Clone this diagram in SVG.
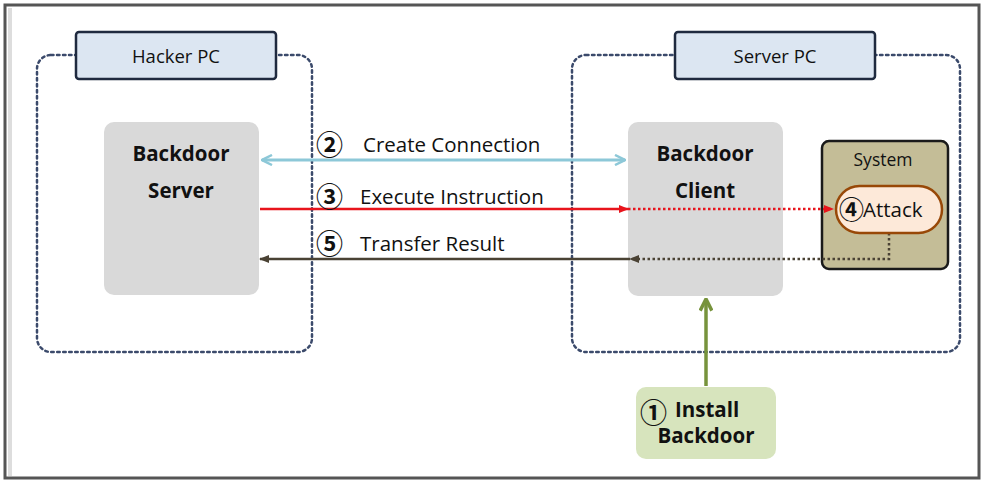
<svg xmlns="http://www.w3.org/2000/svg" width="984" height="482" viewBox="0 0 984 482">
<defs>
<style>
text{font-family:"Open Sans","Noto Sans","Noto Sans CJK KR",sans-serif;fill:#111}
.lbl{font-size:20.5px}
.ttl{font-size:18.5px}
.bold{font-size:20.5px;font-weight:bold}
.num{font-family:"Noto Sans CJK KR","Noto Sans CJK SC",sans-serif;font-size:27px;font-weight:bold}
.group{fill:none;stroke:#3b4a6b;stroke-width:2.5;stroke-dasharray:2.5 3.5;stroke-linecap:round}
.title{fill:#dce6f2;stroke:#1f2a3f;stroke-width:2.5}
.gray{fill:#d9d9d9}
</style>
<marker id="aCyan" viewBox="0 0 12 12" refX="11" refY="6" markerWidth="12" markerHeight="12" markerUnits="userSpaceOnUse" orient="auto-start-reverse"><path d="M1,1 L11,6 L1,11" fill="none" stroke="#8dc8d8" stroke-width="2.5"/></marker>
<marker id="aRed" viewBox="0 0 10 10" refX="9" refY="5" markerWidth="10" markerHeight="10" markerUnits="userSpaceOnUse" orient="auto"><path d="M0,1 L10,5 L0,9 Z" fill="#e8141c"/></marker>
<marker id="aBrown" viewBox="0 0 10 10" refX="9" refY="5" markerWidth="10" markerHeight="10" markerUnits="userSpaceOnUse" orient="auto"><path d="M0,1 L10,5 L0,9 Z" fill="#4a4234"/></marker>
<marker id="aGreen" viewBox="0 0 12 12" refX="11" refY="6" markerWidth="14" markerHeight="14" markerUnits="userSpaceOnUse" orient="auto"><path d="M1,1 L11,6 L1,11" fill="none" stroke="#77933c" stroke-width="3"/></marker>
</defs>
<rect x="0" y="0" width="984" height="482" fill="#fff"/>
<rect x="5" y="5" width="974" height="473" fill="none" stroke="#555" stroke-width="3"/>
<rect x="8" y="8" width="4" height="468" fill="#ddd"/>

<g id="hacker-pc">
<rect class="group" x="37" y="55" width="275" height="297" rx="14"/>
<rect class="title" x="76" y="32" width="200" height="47" rx="3"/>
<text class="ttl" x="176" y="63" text-anchor="middle">Hacker PC</text>
</g>
<g id="server-pc">
<rect class="group" x="572" y="55" width="388" height="297" rx="14"/>
<rect class="title" x="675" y="32" width="200" height="47" rx="3"/>
<text class="ttl" x="775" y="63" text-anchor="middle">Server PC</text>
</g>
<g id="backdoor-server">
<rect class="gray" x="104" y="122" width="155" height="173" rx="10"/>
<text class="bold" x="181" y="161" text-anchor="middle">Backdoor</text>
<text class="bold" x="181" y="198" text-anchor="middle">Server</text>
</g>
<g id="backdoor-client">
<rect class="gray" x="628" y="122" width="155" height="174" rx="10"/>
<text class="bold" x="705" y="161" text-anchor="middle">Backdoor</text>
<text class="bold" x="705" y="198" text-anchor="middle">Client</text>
</g>
<g id="system">
<rect x="822" y="141" width="126" height="128" rx="7" fill="#c4bd97" stroke="#1a1a1a" stroke-width="2.5"/>
<text x="883" y="166" text-anchor="middle" style="font-size:17.5px">System</text>
</g>
<g id="install-backdoor">
<rect x="636" y="387" width="140" height="72" rx="10" fill="#d7e4bd"/>
<text class="num" x="640" y="423">①</text>
<text class="bold" x="675" y="417">Install</text>
<text class="bold" x="706" y="443" text-anchor="middle">Backdoor</text>
</g>

<g id="connectors">
<line x1="262" y1="160" x2="625" y2="160" stroke="#8dc8d8" stroke-width="3" marker-start="url(#aCyan)" marker-end="url(#aCyan)"/>
<line x1="260" y1="209" x2="628" y2="209" stroke="#e8141c" stroke-width="2.5" marker-end="url(#aRed)"/>
<line x1="628" y1="209" x2="833" y2="209" stroke="#e8141c" stroke-width="2.5" stroke-dasharray="2.5 2.5" marker-end="url(#aRed)"/>
<polyline points="889,233 889,259 630,259" fill="none" stroke="#4a4234" stroke-width="2.5" stroke-dasharray="2.5 2.5" marker-end="url(#aBrown)"/>
<line x1="630" y1="259" x2="260" y2="259" stroke="#4a4234" stroke-width="2.5" marker-end="url(#aBrown)"/>
<line x1="706" y1="386" x2="706" y2="299" stroke="#77933c" stroke-width="3.5" marker-end="url(#aGreen)"/>
<text class="num" x="316" y="155">②</text>
<text class="lbl" x="363" y="152">Create Connection</text>
<text class="num" x="316" y="207">③</text>
<text class="lbl" x="360" y="204">Execute Instruction</text>
<text class="num" x="316" y="254">⑤</text>
<text class="lbl" x="360" y="251">Transfer Result</text>
</g>
<g id="attack">
<rect x="836" y="186" width="106" height="47" rx="23.5" fill="#fde9d9" stroke="#984807" stroke-width="2.5"/>
<text class="num" x="839" y="219" style="font-size:25px">④</text>
<text class="lbl" x="863" y="217">Attack</text>
</g>
</svg>
